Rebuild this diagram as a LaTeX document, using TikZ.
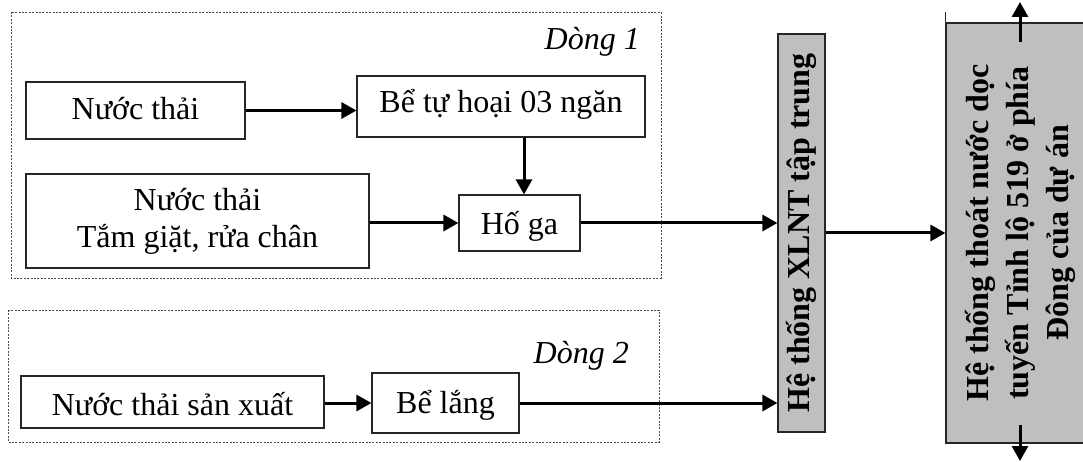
\documentclass[tikz,border=0pt]{standalone}
\usepackage{fontspec}
\setmainfont{Liberation Serif}
\usetikzlibrary{arrows.meta}

\begin{document}
\begin{tikzpicture}[x=1pt,y=-1pt,
  txt/.style={font=\fontsize{32}{37}\selectfont},
  box/.style={txt, draw=black!85, line width=1.1pt, inner sep=0pt, align=center},
  graybox/.style={box, fill=black!25, font=\fontsize{32}{40}\selectfont\bfseries, rotate=90},
  frame/.style={draw=black!70, line width=0.8pt, dash pattern=on 2pt off 1.4pt},
  arr/.style={line width=3pt, -{Triangle[length=15pt,width=16pt]}},
  lbl/.style={txt, font=\fontsize{32}{37}\selectfont\itshape, inner sep=0pt, anchor=base east},
]
\useasboundingbox (0,0) rectangle (1083,462);
\clip (0,0) rectangle (1083,462);

% dotted group frames
\draw[frame] (11,12) rectangle (661,278);
\draw[frame] (8,310) rectangle (659,442);
\node[lbl] (d1) at (640,50) {Dòng 1};
\node[lbl] (d2) at (629,363) {Dòng 2};

% process boxes (text height/depth set the baseline inside each box)
\node[box, minimum width=219pt, minimum height=57pt, text height=25pt, text depth=6pt] (n1) at (135.5,110.5) {Nước thải};
\node[box, minimum width=288pt, minimum height=61pt, text height=21pt, text depth=8pt] (bth) at (501,106.5) {Bể tự hoại 03 ngăn};
\node[box, minimum width=343pt, minimum height=94pt] (n2) at (197.5,221) {Nước thải\\Tắm giặt, rửa chân};
\node[box, minimum width=121pt, minimum height=56pt, text height=27pt, text depth=5pt] (hg) at (519.5,223) {Hố ga};
\node[box, minimum width=303pt, minimum height=52pt, text height=30pt, text depth=4pt] (n3) at (172.5,402) {Nước thải sản xuất};
\node[box, minimum width=147pt, minimum height=60pt, text height=26pt, text depth=6pt] (bl) at (445.5,403) {Bể lắng};

% vertical gray boxes
\node[graybox, minimum width=398pt, minimum height=47pt] (xl) at (801.5,233) {Hệ thống XLNT tập trung};
\node[graybox, minimum width=420pt, minimum height=148pt] (rb) at (1020,233)
  {Hệ thống thoát nước dọc\\tuyến Tỉnh lộ 519 ở phía\\Đông của dự án};
\draw[draw=black!85, line width=1.1pt] (rb.north east) -- ++(0,-10);

% flows
\draw[arr] (n1.east) -- (n1.east -| bth.west);
\draw[arr] ([xshift=4.5pt]hg.north |- bth.south) -- ([xshift=4.5pt]hg.north);
\draw[arr] (n2.east |- hg.west) -- (hg.west);
\draw[arr] (hg.east) -- (hg.east -| xl.north);
\draw[arr] (n3.east |- bl.west) -- (bl.west);
\draw[arr] (bl.east) -- (bl.east -| xl.north);
\draw[arr] (xl.south) -- (rb.north);

% discharge in both directions along the drain
\coordinate (up0) at (1020,42);
\coordinate (up1) at (1020,2);
\coordinate (dn0) at (1020,425);
\coordinate (dn1) at (1020,461);
\draw[arr] (up0) -- (up1);
\draw[arr] (dn0) -- (dn1);
\end{tikzpicture}
\end{document}
